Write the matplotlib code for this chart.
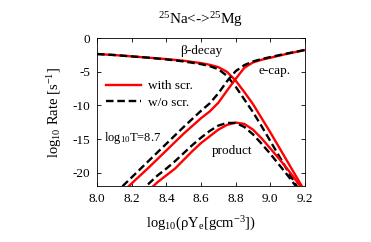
import numpy as np
import matplotlib
matplotlib.use("Agg")
import matplotlib.pyplot as plt

plt.rcParams['font.family'] = ['Liberation Serif', 'DejaVu Serif']
plt.rcParams['mathtext.fontset'] = 'custom'
plt.rcParams['mathtext.rm'] = 'Liberation Serif'
plt.rcParams['mathtext.it'] = 'Liberation Serif:italic'

# beta-decay
bd_x = [8.0, 8.1, 8.2, 8.3, 8.4, 8.5, 8.6, 8.65, 8.7, 8.75, 8.8, 8.85, 8.9, 8.95, 9.0, 9.05, 9.1, 9.15, 9.2]
bd_scr = [-2.35, -2.5, -2.7, -2.9, -3.1, -3.35, -3.7, -3.95, -4.3, -5.0, -6.3, -8.0, -9.8, -11.9, -14.0, -16.2, -18.4, -20.6, -22.8]
bd_noscr = [-2.35, -2.5, -2.7, -2.9, -3.15, -3.45, -3.85, -4.15, -4.6, -5.6, -7.2, -9.1, -11.0, -13.1, -15.3, -17.5, -19.7, -21.9, -24.1]

# electron capture
ec_x = [8.1, 8.2, 8.3, 8.4, 8.5, 8.6, 8.65, 8.7, 8.75, 8.8, 8.85, 8.9, 8.95, 9.0, 9.1, 9.2]
ec_scr = [-24.1, -21.6, -19.2, -16.7, -14.2, -11.9, -10.9, -9.6, -7.8, -6.05, -4.4, -3.6, -3.2, -2.9, -2.3, -1.75]
ec_noscr = [-23.2, -20.7, -18.2, -15.7, -13.2, -10.8, -9.7, -8.2, -6.4, -4.9, -4.0, -3.45, -3.1, -2.8, -2.25, -1.75]

# product
pr_x = [8.25, 8.3, 8.35, 8.4, 8.45, 8.5, 8.55, 8.6, 8.65, 8.7, 8.75, 8.8, 8.85, 8.9, 8.95, 9.0, 9.05, 9.1, 9.15, 9.2]
pr_scr = [-23.8, -22.6, -21.4, -20.4, -19.4, -18.1, -16.8, -15.6, -14.6, -13.6, -12.9, -12.55, -12.75, -13.6, -14.9, -16.4, -17.9, -19.5, -21.2, -23.0]
pr_noscr = [-23.0, -21.6, -20.4, -19.4, -18.3, -17.1, -15.9, -14.8, -13.8, -13.0, -12.6, -12.6, -13.2, -14.3, -15.7, -17.2, -18.8, -20.4, -22.1, -23.8]

xticks = [8.0, 8.2, 8.4, 8.6, 8.8, 9.0, 9.2]
yticks = [0, -5, -10, -15, -20]

fig = plt.figure(figsize=(3.71, 2.42), dpi=100)
ax = fig.add_axes([0.2615, 0.231, 0.5605, 0.611])

red = '#ff0000'
dash = (0, (3.2, 1.6))
lw = 1.7
ax.plot(bd_x, bd_scr, color=red, lw=lw, label='with scr.')
ax.plot(bd_x, bd_noscr, color='black', lw=lw, ls=dash, label='w/o scr.')
ax.plot(ec_x, ec_scr, color=red, lw=lw)
ax.plot(ec_x, ec_noscr, color='black', lw=lw, ls=dash)
ax.plot(pr_x, pr_scr, color=red, lw=lw)
ax.plot(pr_x, pr_noscr, color='black', lw=lw, ls=dash)

ax.set_xlim(8.0, 9.2)
ax.set_ylim(-22, 0)
ax.set_xticks(xticks)
ax.set_yticks(yticks)
ax.set_xticklabels(['%.1f' % v for v in xticks])
ax.set_yticklabels(['%d' % v if v == 0 else '-%d' % abs(v) for v in yticks])
ax.tick_params(direction='in', top=True, right=True, labelsize=9.5, length=3, width=0.6)
ax.tick_params(axis='x', pad=5)
ax.tick_params(axis='y', pad=5)
for s in ax.spines.values():
    s.set_linewidth(0.6)

ax.text(8.6, -1.9, 'β-decay', fontsize=9.5, ha='center', va='center')
ax.text(9.025, -4.9, 'e-cap.', fontsize=9.5, ha='center', va='center')
ax.text(8.04, -14.8, r'log$_{10}$T=8.7', fontsize=9, ha='left', va='center')
ax.text(8.78, -16.8, 'product', fontsize=9.5, ha='center', va='center')

ax.legend(loc='upper left', bbox_to_anchor=(0.0, 0.78), frameon=False, fontsize=9.5,
          handlelength=2.6, handletextpad=0.6, labelspacing=0.35, borderaxespad=0.3)

ax.set_xlabel(r'log$_{10}$(ρY$_{\rm e}$[gcm$^{-3}$])', fontsize=10.5, labelpad=7)
ax.set_ylabel(r'log$_{10}$ Rate [s$^{-1}$]', fontsize=10.5, labelpad=6)
ax.set_title(r'$^{25}$Na<->$^{25}$Mg', fontsize=11, pad=10)

fig.savefig('out.png', dpi=100)
